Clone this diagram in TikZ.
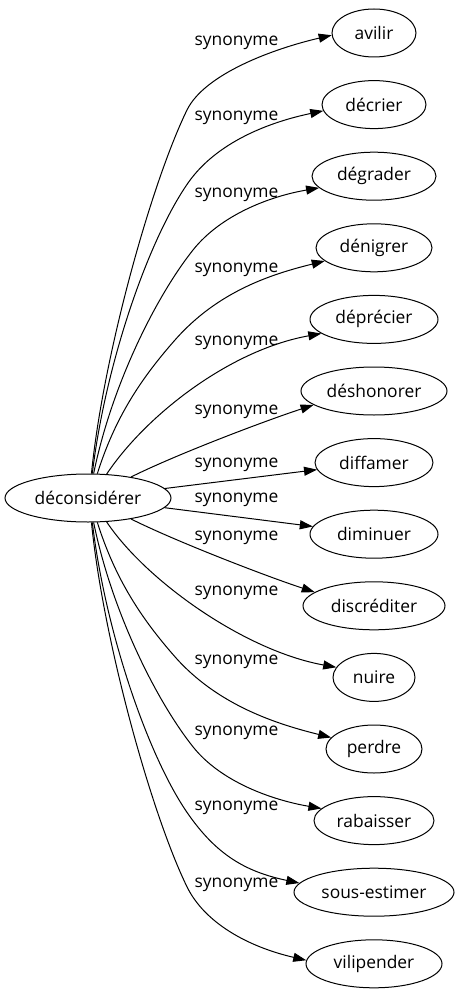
\documentclass[tikz,border=0pt]{standalone}
\usepackage{fontspec}
\setmainfont{Open Sans}
\usetikzlibrary{shapes.geometric,arrows.meta}
\begin{document}
\begin{tikzpicture}[x=1pt,y=-1pt,
  every node/.style={font=\fontsize{17.4}{20}\selectfont},
  vnode/.style={draw, ellipse, minimum height=48pt, inner sep=0pt, line width=1pt},
  lbl/.style={inner sep=0pt},
  syn/.style={draw, line width=1pt, -{Triangle[length=13pt,width=9pt]}}]
\useasboundingbox (0,0) rectangle (460,995);
\node[vnode, minimum width=166pt] (src) at (88,498) {déconsidérer};
\node[vnode, minimum width=84pt]  (t0)  at (374,33)    {avilir};
\node[vnode, minimum width=104pt] (t1)  at (374,104.6) {décrier};
\node[vnode, minimum width=124pt] (t2)  at (374,176.2) {dégrader};
\node[vnode, minimum width=116pt] (t3)  at (374,247.8) {dénigrer};
\node[vnode, minimum width=128pt] (t4)  at (374,319.4) {déprécier};
\node[vnode, minimum width=146pt] (t5)  at (374,391)   {déshonorer};
\node[vnode, minimum width=118pt] (t6)  at (374,462.6) {diffamer};
\node[vnode, minimum width=128pt] (t7)  at (374,534.2) {diminuer};
\node[vnode, minimum width=142pt] (t8)  at (374,605.8) {discréditer};
\node[vnode, minimum width=82pt]  (t9)  at (374,677.4) {nuire};
\node[vnode, minimum width=96pt]  (t10) at (374,749)   {perdre};
\node[vnode, minimum width=120pt] (t11) at (374,820.6) {rabaisser};
\node[vnode, minimum width=160pt] (t12) at (374,892.2) {sous-estimer};
\node[vnode, minimum width=136pt] (t13) at (374,963.8) {vilipender};
\node[lbl] (l0)  at (236.5,43)  {synonyme};
\node[lbl] (l1)  at (236.5,118) {synonyme};
\node[lbl] (l2)  at (236.5,195) {synonyme};
\node[lbl] (l3)  at (236.5,270) {synonyme};
\node[lbl] (l4)  at (236.5,343) {synonyme};
\node[lbl] (l5)  at (236.5,412) {synonyme};
\node[lbl] (l6)  at (236.5,465) {synonyme};
\node[lbl] (l7)  at (236.5,500) {synonyme};
\node[lbl] (l8)  at (236.5,538) {synonyme};
\node[lbl] (l9)  at (236.5,593) {synonyme};
\node[lbl] (l10) at (236.5,662) {synonyme};
\node[lbl] (l11) at (236.5,733) {synonyme};
\node[lbl] (l12) at (236.5,808) {synonyme};
\node[lbl] (l13) at (236.5,885) {synonyme};
% upper edges
\draw[syn] (src.82) .. controls +(12,-119.4) and +(-35.2,72) .. (187,110)
  .. controls +(17.6,-36) and +(-58.4,13.5) .. (t0.183);
\draw[syn] (src.80.5) .. controls +(13,-109) and +(-40,57.4) .. (188,183)
  .. controls +(28.6,-41) and +(-53.8,11.3) .. (t1.187);
\draw[syn] (src.77) .. controls +(18,-88.2) and +(-37.3,47) .. (193,250)
  .. controls +(28,-35.2) and +(-49.2,8.45) .. (t2.192.5);
\draw[syn] (src.69.4) .. controls +(18,-57.2) and +(-33,37.5) .. (175,340)
  .. controls +(42.9,-48.75) and +(-53.4,13.2) .. (t3.195);
\draw[syn] (src.52) .. controls +(38.9,-58.4) and +(-92,16.6) .. (t4.195);
\draw[syn] (src.26) .. controls +(44.7,-22.4) and +(-47.5,15.5) .. (t5.193);
% middle edges
\draw[syn] (src) -- (t6);
\draw[syn] (src) -- (t7);
% lower edges
\draw[syn] (src.-26) .. controls +(44.7,22.4) and +(-47.5,-15.5) .. (t8.167);
\draw[syn] (src.-52) .. controls +(38.9,58.4) and +(-92,-16.6) .. (t9.165);
\draw[syn] (src.-69.4) .. controls +(18,57.2) and +(-33,-37.5) .. (175,656.8)
  .. controls +(42.9,48.75) and +(-53.4,-13.2) .. (t10.165);
\draw[syn] (src.-77) .. controls +(18,88.2) and +(-37.3,-47) .. (193,746.8)
  .. controls +(28,35.2) and +(-49.2,-8.45) .. (t11.167.5);
\draw[syn] (src.-80.5) .. controls +(13,109) and +(-40,-57.4) .. (188,813.8)
  .. controls +(28.6,41) and +(-53.8,-11.3) .. (t12.173);
\draw[syn] (src.-82) .. controls +(12,119.4) and +(-35.2,-72) .. (187,886.8)
  .. controls +(17.6,36) and +(-58.4,-13.5) .. (t13.177);
\end{tikzpicture}
\end{document}
